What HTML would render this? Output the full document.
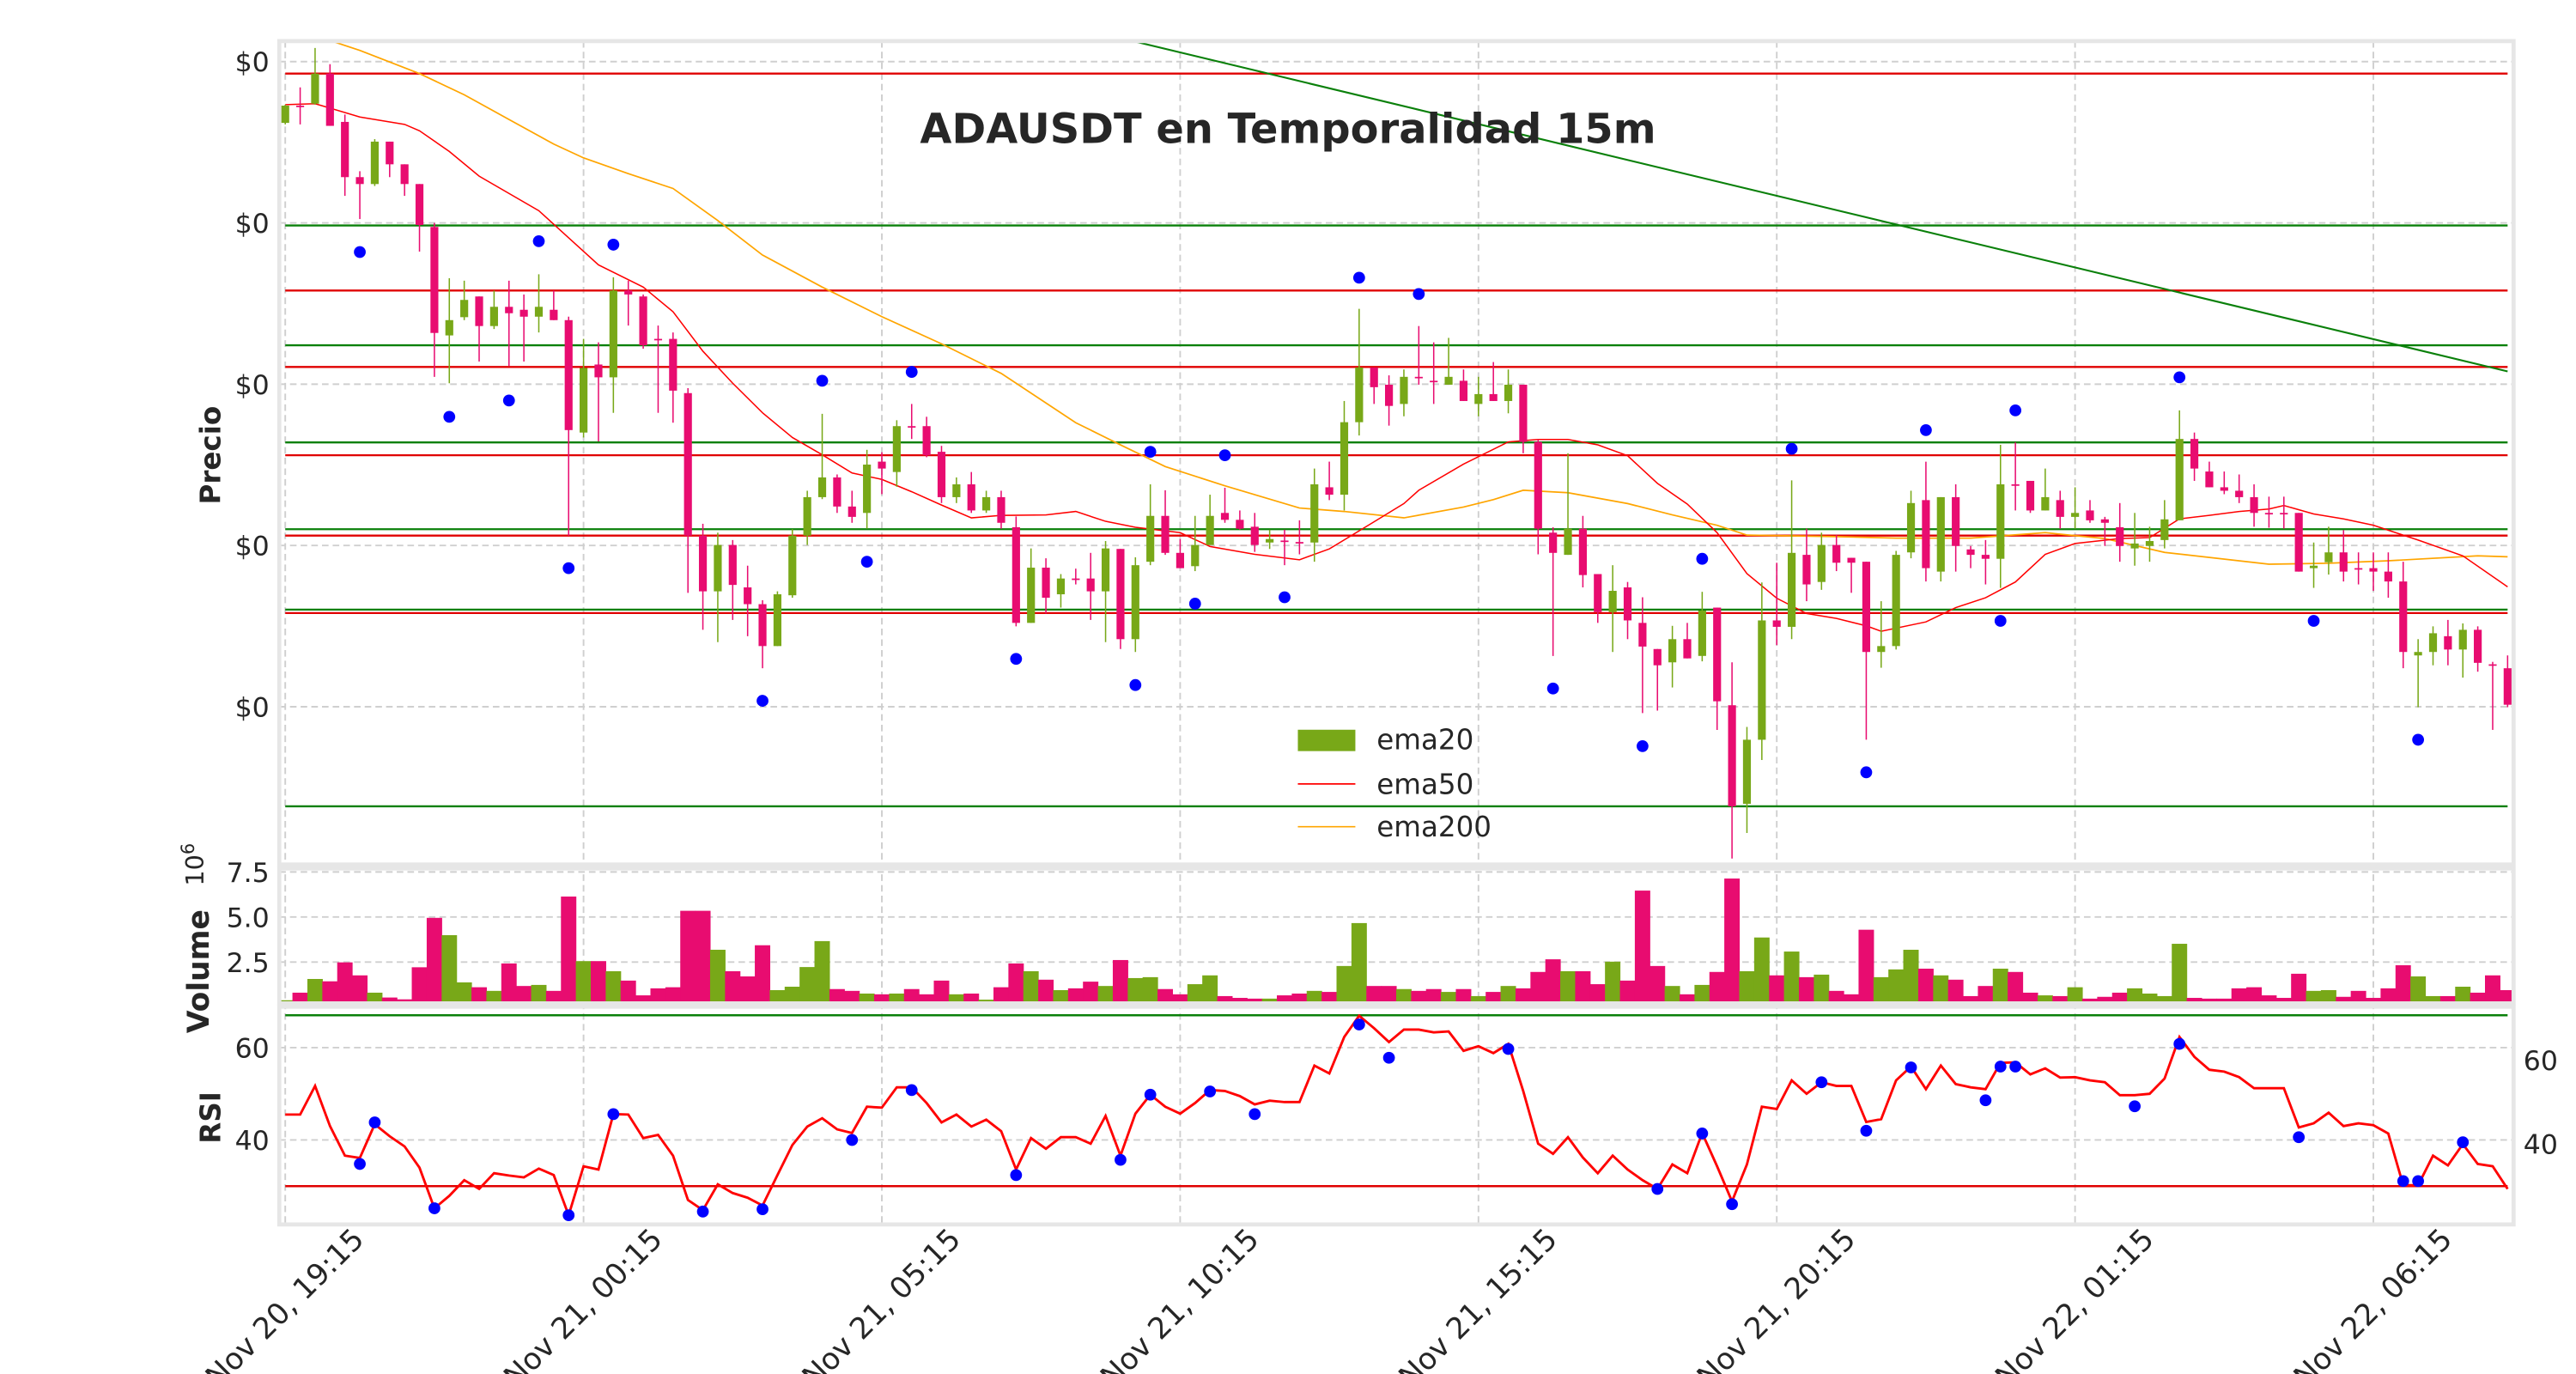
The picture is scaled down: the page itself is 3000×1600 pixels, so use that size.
<!DOCTYPE html>
<html><head><meta charset="utf-8"><title>ADAUSDT 15m</title>
<style>
html,body{margin:0;padding:0;background:#fff;}
svg{display:block;}
text{font-family:"DejaVu Sans","Liberation Sans",sans-serif;fill:#262626;}
</style></head>
<body>
<svg id="chart" xmlns="http://www.w3.org/2000/svg" width="3000" height="1600" viewBox="0 0 1568 836" preserveAspectRatio="none">
<rect x="0" y="0" width="1568" height="836" fill="#fff"/>
<defs>
<clipPath id="cMain"><rect x="170" y="25" width="1360" height="501"/></clipPath>
<clipPath id="cVol"><rect x="170" y="528.4" width="1360" height="82.1"/></clipPath>
<clipPath id="cRsi"><rect x="170" y="612.5" width="1360" height="132.5"/></clipPath>
</defs>
<g id="grid"></g>
<g id="mainG" clip-path="url(#cMain)"></g>
<g id="volG" clip-path="url(#cVol)"></g>
<g id="rsiG" clip-path="url(#cRsi)"></g>
<g id="frames">
<rect x="170" y="25" width="1360" height="501" fill="none" stroke="#e6e6e6" stroke-width="2.5"/>
<rect x="170" y="528.4" width="1360" height="82.1" fill="none" stroke="#e6e6e6" stroke-width="2.5"/>
<rect x="170" y="612.5" width="1360" height="132.5" fill="none" stroke="#e6e6e6" stroke-width="2.5"/>
</g>
<g id="labels"></g>
<text x="784" y="87" text-anchor="middle" font-size="25" font-weight="bold" textLength="448">ADAUSDT en Temporalidad 15m</text>
<text x="0" y="0" transform="translate(134,277) rotate(-90)" text-anchor="middle" font-size="17" font-weight="bold">Precio</text>
<text x="0" y="0" transform="translate(127,591) rotate(-90)" text-anchor="middle" font-size="18" font-weight="bold">Volume</text>
<text x="0" y="0" transform="translate(124,526) rotate(-90)" text-anchor="middle" font-size="15">10<tspan dy="-6" font-size="11">6</tspan></text>
<text x="0" y="0" transform="translate(134,680) rotate(-90)" text-anchor="middle" font-size="17" font-weight="bold">RSI</text>
<g>
<rect x="790" y="444" width="35" height="13" fill="#78a818"/>
<text x="838" y="456" font-size="17">ema20</text>
<line x1="790" y1="477" x2="825" y2="477" stroke="red" stroke-width="0.9"/>
<text x="838" y="483" font-size="17">ema50</text>
<line x1="790" y1="503" x2="825" y2="503" stroke="orange" stroke-width="0.9"/>
<text x="838" y="509" font-size="17">ema200</text>
</g>
</svg>
<script>
// ---------- data ----------
const opens=[1803,1838,1842,1903,1805,1693,1679,1765,1719,1679,
1592,1372,1409,1451,1391,1430,1424,1410,1424,1403,
1175,1313,1287,1463,1451,1365,1365,1255,966,853,
947,861,827,742,845,966,1044,1084,1025,1012,
1116,1095,1188,1188,1136,1044,1070,1017,1044,983,
789,901,847,879,879,853,939,756,913,1006,
931,904,947,1012,998,984,952,956,953,952,
1064,1049,1196,1307,1272,1233,1288,1280,1272,1280,
1233,1253,1239,1272,1156,972,927,980,888,811,
861,789,736,709,756,722,820,622,422,552,
794,781,927,872,947,921,913,730,742,932,
1038,893,1044,938,927,919,1070,1077,1017,1038,
1004,1017,999,983,940,945,957,997,1162,1096,
1064,1057,1044,1012,1012,1012,900,912,932,900,
900,893,873,723,730,762,735,775,705,697];
const closes=[1838,1837,1903,1797,1693,1679,1765,1719,1679,1596,
1377,1403,1444,1391,1430,1417,1410,1430,1403,1180,
1306,1287,1463,1455,1352,1364,1260,966,853,947,
866,827,742,847,966,1044,1084,1025,1004,1110,
1102,1188,1187,1129,1044,1070,1017,1044,992,789,
901,840,879,878,853,940,756,906,1006,931,
900,947,1006,998,980,947,959,955,952,1070,
1049,1196,1307,1267,1229,1288,1287,1279,1288,1239,
1253,1239,1272,1156,980,931,980,886,811,854,
794,741,703,756,717,814,630,417,552,794,
781,931,867,947,911,911,730,742,927,1032,
900,1044,945,927,919,1070,1069,1017,1044,1004,
1012,997,992,945,950,955,999,1162,1102,1064,
1057,1044,1012,1011,1011,893,905,932,893,899,
893,873,730,730,768,735,775,708,704,623];
const highs=[1840,1875,1955,1922,1820,1705,1770,1765,1719,1679,
1600,1488,1483,1451,1463,1483,1455,1496,1463,1410,
1365,1358,1490,1483,1455,1392,1378,1265,990,972,
957,905,835,853,979,1057,1213,1090,1057,1140,
1135,1200,1233,1207,1148,1084,1095,1057,1057,1005,
940,920,888,899,931,955,939,922,1070,1058,
959,1006,1049,1063,1017,1012,978,978,997,1102,
1116,1239,1426,1307,1291,1303,1391,1358,1367,1303,
1288,1318,1303,1272,1161,983,1133,1006,888,906,
872,841,736,783,789,852,820,709,578,871,
911,1078,980,972,967,921,913,833,935,1057,
1116,1044,1070,945,957,1150,1155,1077,1102,1057,
1064,1038,1004,1032,1012,984,1038,1220,1175,1116,
1096,1090,1070,1045,1045,1012,952,984,977,932,
932,932,913,756,782,795,788,782,710,723];
const lows=[1800,1800,1840,1797,1655,1608,1675,1693,1655,1542,
1288,1275,1403,1319,1385,1310,1319,1378,1403,966,
1165,1157,1215,1392,1345,1215,1195,850,775,750,
795,762,697,742,840,947,1040,1012,992,980,
1050,1065,1162,1125,1032,1032,1012,1012,980,782,
789,808,820,867,795,750,736,730,906,927,
900,894,947,992,978,933,939,906,928,913,
1038,1017,1169,1233,1189,1208,1272,1233,1272,1239,
1208,1239,1214,1133,928,722,927,861,789,730,
756,606,611,658,717,711,572,311,363,511,
744,756,833,856,894,850,552,698,735,920,
873,873,893,900,867,860,1017,1012,1017,980,
980,992,945,913,905,913,940,997,1077,1064,
1050,1032,984,982,980,893,860,887,873,867,
854,840,697,618,703,703,678,690,572,618];
const volumes=[0.37,0.79,1.55,1.42,2.47,1.75,0.79,0.52,0.42,2.2,
4.94,3.98,1.36,1.09,0.89,2.41,1.16,1.22,0.89,6.12,
2.54,2.54,1.98,1.46,0.64,1.03,1.09,5.33,5.33,3.17,
1.98,1.69,3.42,0.93,1.12,2.21,3.65,0.99,0.89,0.74,
0.70,0.74,0.99,0.70,1.46,0.70,0.74,0.40,1.09,2.41,
1.98,1.51,0.93,1.03,1.40,1.16,2.6,1.6,1.65,0.99,
0.70,1.26,1.75,0.60,0.50,0.46,0.46,0.64,0.74,0.89,
0.83,2.27,4.65,1.16,1.16,0.99,0.89,0.99,0.83,0.99,
0.60,0.83,1.16,1.03,1.94,2.64,1.98,1.98,1.26,2.51,
1.46,6.45,2.27,1.16,0.70,1.22,1.94,7.12,1.98,3.85,
1.75,3.07,1.65,1.79,0.89,0.70,4.28,1.65,2.08,3.17,
2.12,1.75,1.51,0.60,1.16,2.12,1.94,0.79,0.64,0.60,
1.09,0.46,0.56,0.79,1.03,0.74,0.60,3.50,0.50,0.46,
0.46,1.03,1.09,0.64,0.50,1.84,0.89,0.93,0.56,0.89,
0.50,1.03,2.31,1.69,0.60,0.60,1.12,0.79,1.75,0.93];
const rsiValues=[45.5,45.5,51.7,43,36.6,36.1,43.4,40.8,38.6,34,
25.2,27.9,31.3,29.4,32.8,32.3,31.9,33.8,32.4,23.7,
34.3,33.6,45.6,45.5,40.4,41.1,36.6,27,24.8,30.4,
28.5,27.5,25.8,32.4,38.9,42.9,44.7,42.3,41.5,47.2,
47,51.4,51.4,48,43.8,45.5,42.9,44.4,41.9,33.6,
40.4,38.1,40.6,40.6,39.2,45.2,36.6,45.7,49.8,47.2,
45.7,48,50.8,50.6,49.5,47.7,48.5,48.2,48.2,56.1,
54.4,62.3,66.9,64.2,61.2,63.9,63.9,63.3,63.5,59.3,
60.3,58.8,60.8,50.6,39.2,37,40.6,36.2,32.8,36.6,
33.6,31.3,29.4,34.7,32.8,41.5,34.3,26.7,34.7,47.2,
46.7,52.9,50,52.5,51.7,51.7,43.9,44.5,52.9,55.9,
51,56.1,52.1,51.4,51,56.7,56.8,54.2,55.5,53.5,
53.6,52.9,52.5,49.7,49.7,50,53.3,62.3,58,55.2,
54.8,53.6,51.2,51.2,51.2,42.7,43.6,45.9,43,43.6,
43.2,41.4,30.2,30.2,36.6,34.5,39.1,34.8,34.3,29.4];
const rsiDotIdx=[5,6,10,19,22,28,32,38,42,49,56,58,62,65,72,74,82,92,95,97,103,106,109,114,115,116,124,127,135,142,143,146];
const rsiDotVal=[34.8,43.8,25.2,23.7,45.6,24.5,25,40,50.8,32.4,35.7,49.8,50.5,45.6,65,57.8,59.7,29.4,41.4,26.1,52.5,42,55.7,48.6,55.9,55.9,47.3,60.8,40.6,31.1,31.1,39.5];
const pivotIdx=[5,11,15,17,19,22,32,36,39,42,49,57,58,61,63,67,72,76,85,91,95,101,106,110,115,116,127,136,143];
const pivotVal=[1541,1207,1240,1563,900,1556,631,1280,913,1298,716,663,1136,828,1129,841,1489,1456,656,539,919,1142,486,1180,793,1220,1287,793,552];
const emaFastIdx=[0,2,5,8,9,11,13,17,19,21,24,26,28,30,32,34,36,38,40,42,44,46,48,51,53,55,57,60,62,65,68,70,73,75,76,79,82,84,86,88,90,92,94,96,98,100,102,104,106,107,110,112,114,116,118,120,123,125,127,129,131,133,134,136,138,140,143,146,149];
const emaFastVal=[1840,1842,1815,1800,1787,1745,1695,1625,1570,1515,1470,1420,1340,1275,1215,1165,1130,1093,1080,1055,1028,1002,1007,1008,1015,995,983,972,944,928,917,939,994,1031,1058,1111,1156,1161,1161,1150,1128,1072,1030,972,889,839,808,798,783,772,791,820,840,872,928,950,960,962,1000,1007,1015,1020,1027,1010,1000,987,957,925,862];
const emaSlowIdx=[1,3,5,9,12,15,18,20,23,26,29,32,36,40,44,48,53,56,59,63,68,71,75,79,81,83,86,90,93,96,98,104,108,113,118,122,126,133,137,141,147,149];
const emaSlowVal=[2010,1970,1950,1903,1860,1810,1760,1732,1700,1670,1605,1535,1470,1410,1355,1295,1195,1150,1106,1067,1022,1015,1002,1024,1039,1058,1053,1031,1008,987,967,964,961,961,972,960,932,908,910,915,925,923];
const supportLevels=[1595,1352,1155,979,816,417];
const resistanceLevels=[1903,1463,1308,1129,966,809];
const trendIdx=[56,149];
const trendVal=[1975,1299];
const priceTicks=[1927.3,1600.2,1273.1,946,618.9];
const priceTickLabels=["$0","$0","$0","$0","$0"];
const volTicks=[7.5,5.0,2.5];
const volTickLabels=["7.5","5.0","2.5"];
const rsiTicks=[60,40];
const rsiTickLabels=["60","40"];
const rsiRightTicks=[60,40];
const rsiRightTickLabels=["60","40"];
const rsiLevels=[67,30];
const xTickIdx=[0,20,40,60,80,100,120,140];
const xTickLabels=["Nov 20, 19:15","Nov 21, 00:15","Nov 21, 05:15","Nov 21, 10:15","Nov 21, 15:15","Nov 21, 20:15","Nov 22, 01:15","Nov 22, 06:15"];

// ---------- axes ----------
const L=170,R=1530;
const xMin=-0.4,xMax=149.4;
function xS(i){return L+(i-xMin)*(R-L)/(xMax-xMin);}
const pTop=25,pBot=526,pMax=1968.9,pMin=299;
function yP(v){return pTop+(pMax-v)*(pBot-pTop)/(pMax-pMin);}
function yV(v){return 612.8-v*10.97;}
function yRL(r){return 637.4+(60-r)*2.81;}
function yRR(r){return 645+(60-r)*2.55;}

const NS='http://www.w3.org/2000/svg';
function mk(tag,attrs,parent){const e=document.createElementNS(NS,tag);for(const k in attrs)e.setAttribute(k,attrs[k]);parent.appendChild(e);return e;}
const grid=document.getElementById('grid');
const mainG=document.getElementById('mainG');
const volG=document.getElementById('volG');
const rsiG=document.getElementById('rsiG');
const labels=document.getElementById('labels');
const GREEN='#78a818',PINK='#e80c70';

xTickIdx.forEach(function(t,k){
  const g=mk('line',{x1:xS(t),x2:xS(t),y1:25,y2:745,stroke:'#cfcfcf','stroke-width':1,'stroke-dasharray':'4,2.5'},grid);
  
  
  const cx=xS(t)+4,cy=800;
  const tx=mk('text',{x:cx,y:cy,'text-anchor':'middle','font-size':18,transform:'rotate(-45 '+cx+' '+cy+')'},labels);
  tx.textContent=xTickLabels[k];
  
  
});
priceTicks.forEach(function(v,k){
  const g=mk('line',{x1:L,x2:R,y1:yP(v),y2:yP(v),stroke:'#cfcfcf','stroke-width':1,'stroke-dasharray':'4,2.5'},grid);
  
  
  const tx=mk('text',{x:164,y:yP(v)+6,'text-anchor':'end','font-size':16.5},labels);
  tx.textContent=priceTickLabels[k];
  
  
});
volTicks.forEach(function(v,k){
  const g=mk('line',{x1:L,x2:R,y1:yV(v),y2:yV(v),stroke:'#cfcfcf','stroke-width':1,'stroke-dasharray':'4,2.5'},grid);
  
  
  const tx=mk('text',{x:164,y:yV(v)+6,'text-anchor':'end','font-size':16.5},labels);
  tx.textContent=volTickLabels[k];
  
  
});
rsiTicks.forEach(function(v,k){
  const g=mk('line',{x1:L,x2:R,y1:yRL(v),y2:yRL(v),stroke:'#cfcfcf','stroke-width':1,'stroke-dasharray':'4,2.5'},grid);
  
  
  const tx=mk('text',{x:164,y:yRL(v)+6,'text-anchor':'end','font-size':16.5},labels);
  tx.textContent=rsiTickLabels[k];
  
  
});
rsiRightTicks.forEach(function(v,k){
  const tx=mk('text',{x:1536,y:yRR(v)+6,'text-anchor':'start','font-size':16.5},labels);
  tx.textContent=rsiRightTickLabels[k];
  
  
});

supportLevels.forEach(function(v){
  const l=mk('line',{x1:xS(0),x2:xS(149),y1:yP(v),y2:yP(v),stroke:'#0a800a','stroke-width':1.2},mainG);
  
  
});
resistanceLevels.forEach(function(v){
  const l=mk('line',{x1:xS(0),x2:xS(149),y1:yP(v),y2:yP(v),stroke:'#e00000','stroke-width':1.2},mainG);
  
  
});
const tl=mk('line',{x1:xS(trendIdx[0]),y1:yP(trendVal[0]),x2:xS(trendIdx[1]),y2:yP(trendVal[1]),stroke:'#0a800a','stroke-width':1.1},mainG);



function poly(idx,val,yf){return idx.map(function(t,k){return xS(t).toFixed(2)+','+yf(val[k]).toFixed(2);}).join(' ');}
const es=mk('polyline',{points:poly(emaSlowIdx,emaSlowVal,yP),fill:'none',stroke:'orange','stroke-width':0.9},mainG);


const ef=mk('polyline',{points:poly(emaFastIdx,emaFastVal,yP),fill:'none',stroke:'red','stroke-width':0.8},mainG);



const bw=4.8;
for(let i=0;i<opens.length;i++){
  const up=closes[i]>=opens[i];
  const c=up?GREEN:PINK;
  const w=mk('line',{x1:xS(i),x2:xS(i),y1:yP(highs[i]),y2:yP(lows[i]),stroke:c,'stroke-width':0.8},mainG);
  
  
  const t=yP(Math.max(opens[i],closes[i])),b=yP(Math.min(opens[i],closes[i]));
  const r=mk('rect',{x:xS(i)-bw/2,y:t,width:bw,height:Math.max(b-t,0.9),fill:c},mainG);
  
  
  const vy=yV(volumes[i]);
  const vb=mk('rect',{x:xS(i)-4.54,y:vy,width:9.08,height:Math.max(611-vy,0),fill:c,stroke:c,'stroke-width':0.3},volG);
  
  
}
pivotIdx.forEach(function(t,k){
  const d=mk('circle',{cx:xS(t),cy:yP(pivotVal[k]),r:3.6,fill:'#0000ff'},mainG);
  
  
});

rsiLevels.forEach(function(v,k){
  const l=mk('line',{x1:xS(0),x2:xS(149),y1:yRL(v),y2:yRL(v),stroke:k===0?'#0a800a':'#e00000','stroke-width':1.3},rsiG);
  
  
});
const rl=mk('polyline',{points:rsiValues.map(function(v,i){return xS(i).toFixed(2)+','+yRL(v).toFixed(2);}).join(' '),fill:'none',stroke:'#ff0000','stroke-width':1.5},rsiG);


rsiDotIdx.forEach(function(t,k){
  const d=mk('circle',{cx:xS(t),cy:yRL(rsiDotVal[k]),r:3.6,fill:'#0000ff'},rsiG);
  
  
});
</script>
</body></html>
